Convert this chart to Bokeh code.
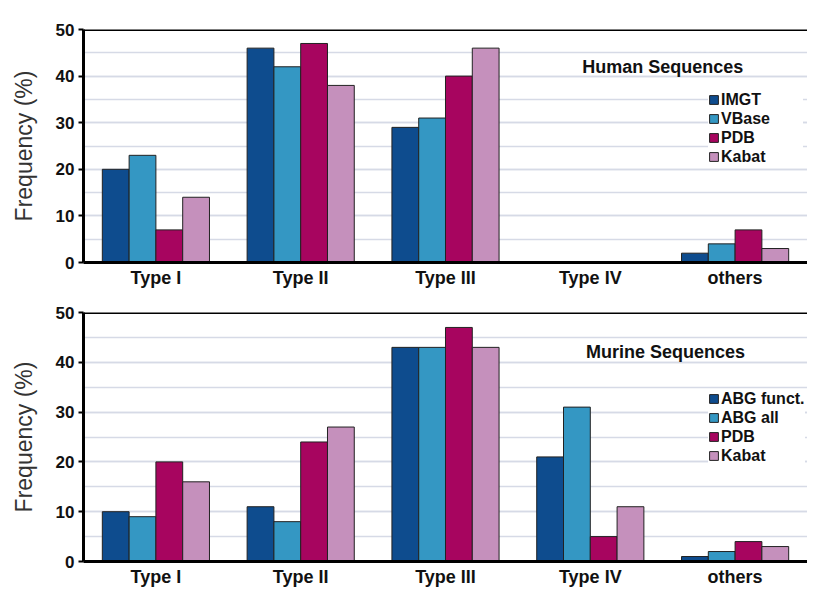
from bokeh.plotting import figure
from bokeh.models import ColumnDataSource, FactorRange, Range1d, Legend, LegendItem, Label, Span, SingleIntervalTicker
from bokeh.transform import dodge
from bokeh.layouts import column
from bokeh.embed import file_html
from bokeh.resources import INLINE

categories = ["Type I", "Type II", "Type III", "Type IV", "others"]

human_series = ["IMGT", "VBase", "PDB", "Kabat"]
human_imgt = [20, 46, 29, 0, 2]
human_vbase = [23, 42, 31, 0, 4]
human_pdb = [7, 47, 40, 0, 7]
human_kabat = [14, 38, 46, 0, 3]

murine_series = ["ABG funct.", "ABG all", "PDB", "Kabat"]
murine_abg_funct = [10, 11, 43, 21, 1]
murine_abg_all = [9, 8, 43, 31, 2]
murine_pdb = [20, 24, 47, 5, 4]
murine_kabat = [16, 27, 43, 11, 3]

colors = ["#0e4c8e", "#3497c3", "#a7055f", "#c590bc"]
FONT = "Liberation Sans"


def make_panel(series_names, series_values, title, border_top, frame_h, legend_top, title_x):
    p = figure(x_range=FactorRange(factors=categories, range_padding=0),
               y_range=Range1d(0, 50), frame_width=724, frame_height=frame_h,
               output_backend="svg", toolbar_location=None,
               min_border_left=83, min_border_right=0,
               min_border_top=border_top, min_border_bottom=0)
    src = ColumnDataSource(dict(cat=categories,
                                **{f"s{i}": v for i, v in enumerate(series_values)}))
    bw = 0.185
    offsets = [-1.5 * bw, -0.5 * bw, 0.5 * bw, 1.5 * bw]
    items = []
    for i, (name, col) in enumerate(zip(series_names, colors)):
        r = p.vbar(x=dodge("cat", offsets[i], range=p.x_range), top=f"s{i}", width=bw,
                   source=src, fill_color=col, line_color="#222222", line_width=1)
        items.append(LegendItem(label=name, renderers=[r]))

    p.outline_line_color = None
    p.background_fill_color = "white"
    p.xgrid.grid_line_color = None
    p.ygrid.grid_line_color = "#d6dae6"
    p.ygrid.grid_line_width = 1.5
    p.ygrid.minor_grid_line_color = "#d6dae6"
    p.ygrid.minor_grid_line_width = 1.5

    p.yaxis.ticker = SingleIntervalTicker(interval=10, num_minor_ticks=2)
    p.yaxis.minor_tick_line_color = None
    p.yaxis.minor_tick_out = 0
    p.yaxis.major_tick_in = 0
    p.yaxis.major_tick_out = 5
    p.yaxis.major_tick_line_width = 2
    p.yaxis.axis_line_width = 3
    p.yaxis.axis_line_color = "black"
    p.yaxis.major_label_text_font = FONT
    p.yaxis.major_label_text_font_style = "bold"
    p.yaxis.major_label_text_font_size = "17px"
    p.yaxis.major_label_text_color = "#111111"
    p.yaxis.major_label_standoff = 4
    p.yaxis.axis_label = "Frequency (%)"
    p.yaxis.axis_label_text_font = FONT
    p.yaxis.axis_label_text_font_style = "normal"
    p.yaxis.axis_label_text_font_size = "23px"
    p.yaxis.axis_label_text_color = "#333333"
    p.yaxis.axis_label_standoff = 16

    p.xaxis.axis_line_width = 3
    p.xaxis.axis_line_color = "black"
    p.xaxis.major_tick_line_color = None
    p.xaxis.major_tick_out = 0
    p.xaxis.major_tick_in = 0
    p.xaxis.minor_tick_line_color = None
    p.xaxis.minor_tick_out = 0
    p.xaxis.major_label_text_font = FONT
    p.xaxis.major_label_text_font_style = "bold"
    p.xaxis.major_label_text_font_size = "18px"
    p.xaxis.major_label_text_color = "#111111"
    p.xaxis.major_label_standoff = 5

    p.add_layout(Span(location=50, dimension="width", line_color="black", line_width=3))

    p.add_layout(Label(x=title_x, y=42, text=title, text_font=FONT,
                       text_font_style="bold", text_font_size="18px",
                       text_color="#111111", text_align="center",
                       text_baseline="middle"))

    legend_h = 4 * 19 + 8
    legend = Legend(items=items, location=(625, frame_h - legend_top - legend_h),
                    background_fill_color="white", background_fill_alpha=1,
                    border_line_color=None, glyph_width=11, glyph_height=11,
                    label_text_font=FONT, label_text_font_style="bold",
                    label_text_font_size="16px", label_text_color="#111111",
                    label_height=19, label_width=82, label_standoff=2, spacing=0,
                    padding=4, margin=0)
    p.add_layout(legend)
    return p


p1 = make_panel(human_series, [human_imgt, human_vbase, human_pdb, human_kabat],
                "Human Sequences", 29, 233, 53, 4.0)
p2 = make_panel(murine_series, [murine_abg_funct, murine_abg_all, murine_pdb, murine_kabat],
                "Murine Sequences", 22, 249, 69, 4.02)

layout = column(p1, p2, spacing=0)
open("out.html", "w").write(file_html(layout, INLINE))
